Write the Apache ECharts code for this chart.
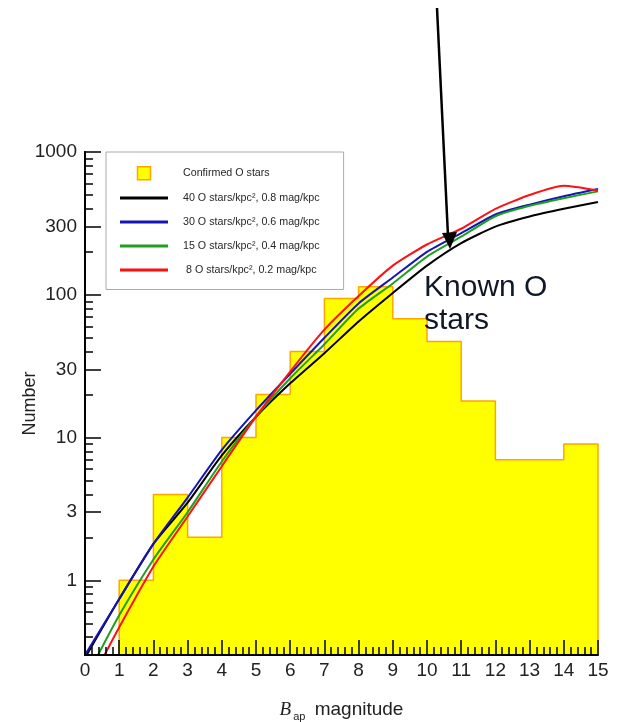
<!DOCTYPE html>
<html>
<head>
<meta charset="utf-8">
<script src="https://cdn.jsdelivr.net/npm/echarts@6/dist/echarts.min.js"></script>
<style>
  html, body { margin: 0; padding: 0; background: #fff; }
  #chart { width: 619px; height: 722px; }
</style>
</head>
<body>
<div id="chart"></div>
<script>
// Histogram of confirmed O stars per 1-mag bin (bins start at these magnitudes)
const binStart = [1, 2, 3, 4, 5, 6, 7, 8, 9, 10, 11, 12, 13, 14];
const binWidth = 1;
const binCounts = [1, 4, 2, 10, 20, 40, 94, 114, 68, 47, 18, 7, 7, 9];

// Model curves: cumulative counts versus B_ap magnitude
const blackMag = [0.05, 1, 2, 3, 4, 5, 6, 7, 8, 9, 10, 11, 12, 13, 14, 15];
const blackNum = [0.3, 0.74, 1.8, 3.5, 7.5, 14, 24, 39, 65, 103, 160, 230, 300, 353, 400, 447];

const blueMag = [0, 1, 2, 3, 4, 5, 6, 7, 8, 9, 10, 11, 12, 13, 14, 15];
const blueNum = [0.3, 0.74, 1.8, 3.8, 8.2, 15.5, 28, 50, 87, 132, 200, 270, 365, 428, 490, 550];

const greenMag = [0.38, 1, 2, 3, 4, 5, 6, 7, 8, 9, 10, 11, 12, 13, 14, 15];
const greenNum = [0.3, 0.57, 1.4, 3.0, 6.8, 14, 26, 45, 80, 120, 185, 255, 355, 420, 475, 530];

const redMag = [0.57, 1, 2, 3, 4, 5, 6, 7, 8, 9, 10, 11, 12, 13, 14, 15];
const redNum = [0.3, 0.47, 1.25, 2.8, 6.3, 14, 29, 57, 98, 160, 225, 290, 400, 500, 580, 537];

const seriesNames = [
  'Confirmed O stars',
  '40 O stars/kpc\u00b2, 0.8 mag/kpc',
  '30 O stars/kpc\u00b2, 0.6 mag/kpc',
  '15 O stars/kpc\u00b2, 0.4 mag/kpc',
  ' 8 O stars/kpc\u00b2, 0.2 mag/kpc'
];

// Axis ticks
const xMin = 0, xMax = 15, xStep = 1;
const yMin = 0.3, yMax = 1000;
const yMajorTicks = [1, 3, 10, 30, 100, 300, 1000];
const yMinorTicks = [0.4, 0.5, 0.6, 0.7, 0.8, 0.9, 2, 4, 5, 6, 7, 8, 9,
                     20, 40, 50, 60, 70, 80, 90, 200, 400, 500, 600, 700, 800, 900];

const FONT = '"Liberation Sans", Arial, Helvetica, sans-serif';

// Step outline of the histogram, closed down to the axis floor
function histogramPoints() {
  const pts = [[binStart[0], yMin]];
  binCounts.forEach((c, i) => pts.push([binStart[i], c]));
  const lastEnd = binStart[binStart.length - 1] + binWidth;
  pts.push([lastEnd, binCounts[binCounts.length - 1]]);
  pts.push([lastEnd, yMin]);
  return pts;
}
const zip = (xs, ys) => xs.map((x, i) => [x, ys[i]]);

function curve(name, xs, ys, color) {
  return {
    name: name,
    type: 'line',
    data: zip(xs, ys),
    smooth: 0.2,
    symbol: 'none',
    showSymbol: false,
    lineStyle: { color: color, width: 2 },
    itemStyle: { color: color },
    z: 3
  };
}

const LINE_ICON = 'path://M0,0H48V3H0Z';

const chart = echarts.init(document.getElementById('chart'), null, { renderer: 'canvas' });

const yAxisBase = {
  type: 'log',
  logBase: 10,
  min: yMin,
  max: yMax,
  splitLine: { show: false },
  axisLine: { show: true, lineStyle: { color: '#000', width: 2 } },
  z: 5
};

chart.setOption({
  animation: false,
  backgroundColor: '#fff',
  grid: { left: 85, right: 21, top: 152, bottom: 67, containLabel: false, outerBoundsMode: 'none' },
  legend: {
    orient: 'vertical',
    left: 106,
    top: 152,
    padding: [14, 24, 13, 14],
    itemWidth: 48,
    itemHeight: 13,
    itemGap: 11,
    backgroundColor: '#fff',
    borderColor: '#aaa',
    borderWidth: 1,
    textStyle: { fontFamily: FONT, fontSize: 10.7, color: '#282828', padding: [0, 0, 0, 10], lineHeight: 13 },
    data: [
      { name: seriesNames[0], icon: 'path://M0,0H10V10H0Z',
        itemStyle: { color: '#ffff00', borderColor: '#ffa500', borderWidth: 1.5 } },
      { name: seriesNames[1], icon: LINE_ICON, itemStyle: { color: '#000000' } },
      { name: seriesNames[2], icon: LINE_ICON, itemStyle: { color: '#1515b5' } },
      { name: seriesNames[3], icon: LINE_ICON, itemStyle: { color: '#1f9e1f' } },
      { name: seriesNames[4], icon: LINE_ICON, itemStyle: { color: '#ff1010' } }
    ]
  },
  xAxis: {
    type: 'value',
    min: xMin,
    max: xMax,
    interval: xStep,
    name: '{b|B}{s|ap}{t| magnitude}',
    nameLocation: 'middle',
    nameGap: 42,
    nameMoveOverlap: false,
    nameTextStyle: {
      rich: {
        b: { fontFamily: '"Liberation Serif", "Times New Roman", serif', fontStyle: 'italic', fontSize: 19, color: '#222' },
        s: { fontFamily: FONT, fontSize: 11, color: '#222', padding: [14, 4, 0, 2] },
        t: { fontFamily: FONT, fontSize: 19, color: '#222' }
      }
    },
    splitLine: { show: false },
    axisLine: { show: true, onZero: false, lineStyle: { color: '#000', width: 2 } },
    axisTick: { show: true, inside: true, length: 15, lineStyle: { color: '#000', width: 1.5 } },
    minorTick: { show: true, splitNumber: 5, length: 8, lineStyle: { color: '#000', width: 1.5 } },
    axisLabel: { fontFamily: FONT, fontSize: 19, color: '#222', margin: 6 },
    z: 5
  },
  yAxis: [
    Object.assign({}, yAxisBase, {
      name: 'Number',
      nameLocation: 'middle',
      nameGap: 46,
      nameRotate: 90,
      nameMoveOverlap: false,
      nameTextStyle: { fontFamily: FONT, fontSize: 18, color: '#222' },
      axisTick: { show: true, inside: true, length: 16, customValues: yMajorTicks,
                  lineStyle: { color: '#000', width: 1.5 } },
      axisLabel: { show: true, customValues: yMajorTicks, fontFamily: FONT, fontSize: 19,
                   color: '#222', margin: 8, formatter: v => String(Math.round(v)) }
    }),
    Object.assign({}, yAxisBase, {
      position: 'left',
      axisTick: { show: true, inside: true, length: 8, customValues: yMinorTicks,
                  lineStyle: { color: '#000', width: 1.5 } },
      axisLabel: { show: false }
    })
  ],
  series: [
    {
      name: seriesNames[0],
      type: 'line',
      data: histogramPoints(),
      step: 'end',
      symbol: 'none',
      lineStyle: { color: '#ffa500', width: 1.5 },
      itemStyle: { color: '#ffff00', borderColor: '#ffa500' },
      areaStyle: { color: '#ffff00', opacity: 1, origin: 'start' },
      z: 1
    },
    curve(seriesNames[1], blackMag, blackNum, '#000000'),
    curve(seriesNames[2], blueMag, blueNum, '#1515b5'),
    curve(seriesNames[3], greenMag, greenNum, '#1f9e1f'),
    curve(seriesNames[4], redMag, redNum, '#ff1010')
  ],
  graphic: [
    { type: 'line', shape: { x1: 437, y1: 8, x2: 448, y2: 236 },
      style: { stroke: '#000', lineWidth: 2.5 }, z: 20 },
    { type: 'polygon', shape: { points: [[450, 249], [442, 233], [457, 232]] },
      style: { fill: '#000' }, z: 20 },
    { type: 'text', left: 424, top: 271,
      style: { text: 'Known O\nstars', fontFamily: FONT, fontSize: 30, lineHeight: 33, fill: '#101828' }, z: 20 }
  ]
});
</script>
</body>
</html>
